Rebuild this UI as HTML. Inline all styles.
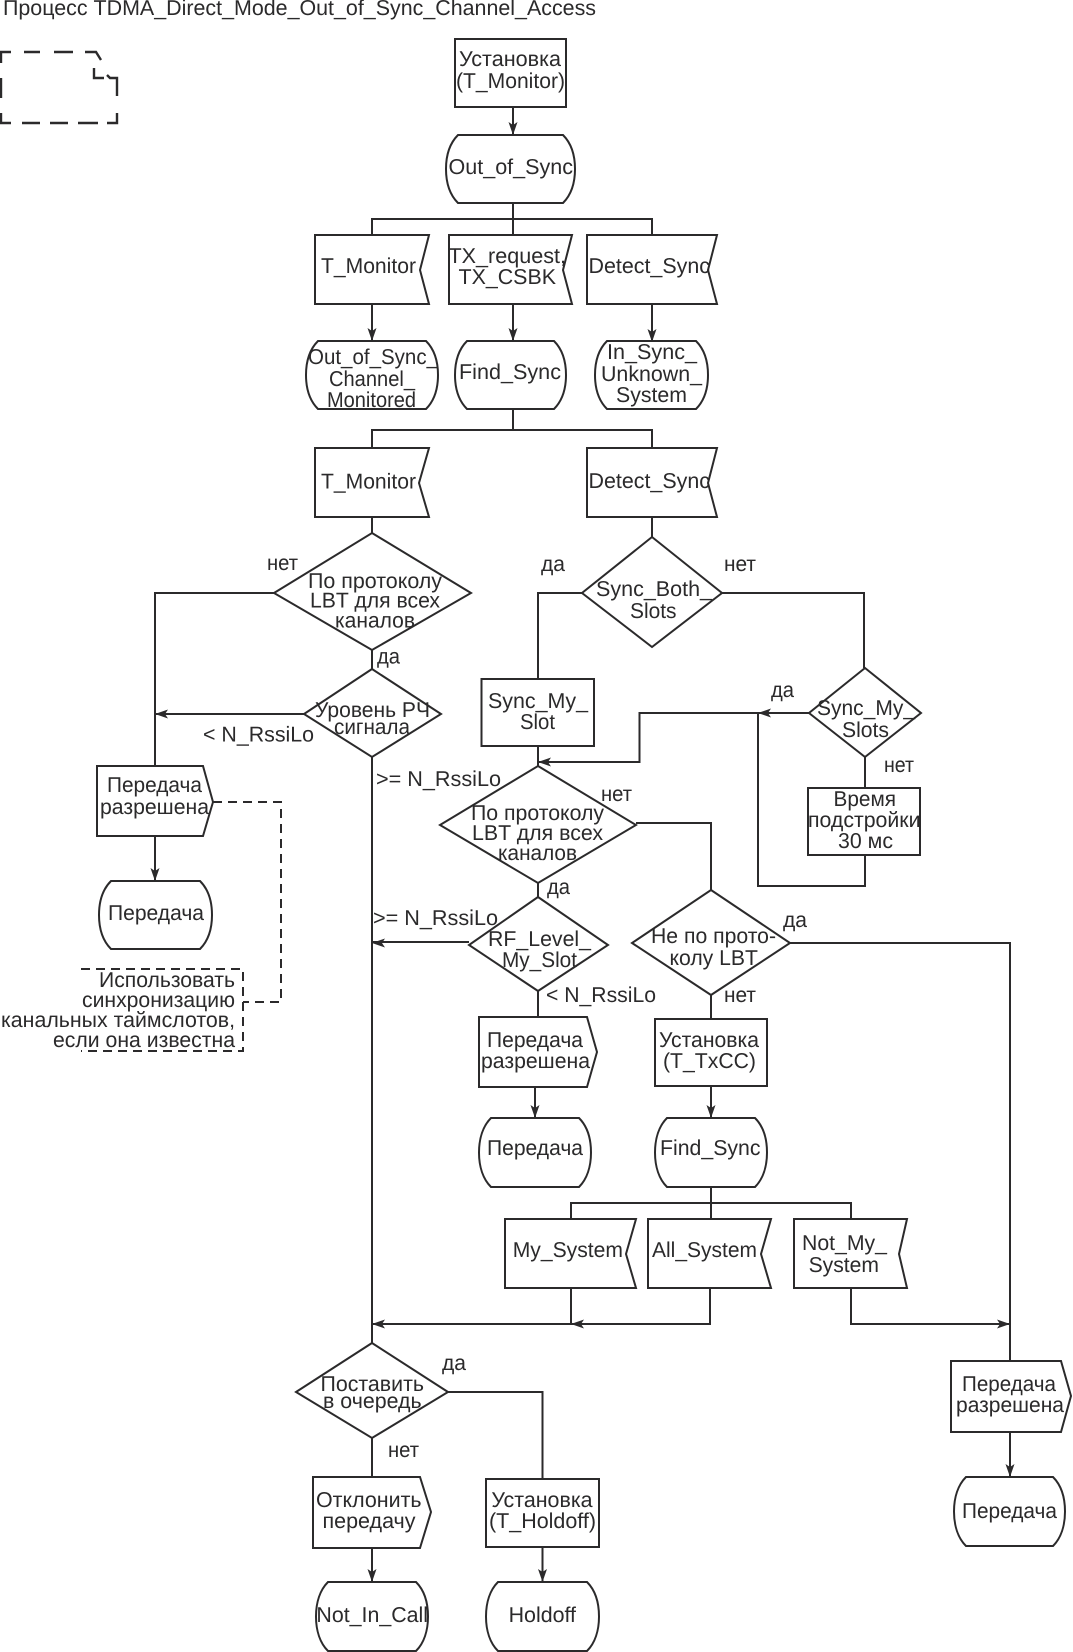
<!DOCTYPE html>
<html lang="ru">
<head>
<meta charset="utf-8">
<title>TDMA_Direct_Mode_Out_of_Sync_Channel_Access</title>
<style>
html,body{margin:0;padding:0;background:#fff}
svg{display:block}
.s{fill:none;stroke:#2b2a2b;stroke-width:2}
.d{fill:none;stroke:#2b2a2b;stroke-width:2;stroke-dasharray:9 6}
.n{fill:none;stroke:#2b2a2b;stroke-width:2.4}
.a{fill:#2b2a2b;stroke:none}
text{font-family:"Liberation Sans","Noto Sans CJK SC",sans-serif;font-size:21.5px;fill:#2b2a2b}
</style>
</head>
<body>
<svg width="1073" height="1652" viewBox="0 0 1073 1652" xmlns="http://www.w3.org/2000/svg" text-rendering="geometricPrecision">
<!-- note symbol -->
<path class="n" d="M1,63V52H11M24,52H40M54,52H73M85,52H96L101,60M1,78V98M1,113V123H11M22,123H40M50,123H68M78,123H98M107,123H117V113M117,96V78H110L107,75M94,68V78H104"/>

<!-- process boxes -->
<rect class="s" x="455" y="39" width="111" height="68"/>
<rect class="s" x="481.500" y="679" width="112.500" height="67"/>
<rect class="s" x="808" y="788" width="112" height="67"/>
<rect class="s" x="655" y="1019" width="112" height="67"/>
<rect class="s" x="486" y="1479" width="113" height="68"/>

<!-- terminals -->
<g class="s">
<path d="M458,135h105c8,8 12,20 12,34c0,14 -4,26 -12,34h-105c-8,-8 -12,-20 -12,-34c0,-14 4,-26 12,-34z"/>
<path d="M318,341h108c8,8 12,20 12,34c0,14 -4,26 -12,34h-108c-8,-8 -12,-20 -12,-34c0,-14 4,-26 12,-34z"/>
<path d="M467,341h87c8,8 12,20 12,34c0,14 -4,26 -12,34h-87c-8,-8 -12,-20 -12,-34c0,-14 4,-26 12,-34z"/>
<path d="M607,341h89c8,8 12,20 12,34c0,14 -4,26 -12,34h-89c-8,-8 -12,-20 -12,-34c0,-14 4,-26 12,-34z"/>
<path d="M111,881h89c8,8 12,20 12,34c0,14 -4,26 -12,34h-89c-8,-8 -12,-20 -12,-34c0,-14 4,-26 12,-34z"/>
<path d="M491,1118h88c8,8 12,20 12,34.500c0,14 -4,26.500 -12,34.500h-88c-8,-8 -12,-20.500 -12,-34.500c0,-14 4,-26.500 12,-34.500z"/>
<path d="M667,1118h88c8,8 12,20 12,34.500c0,14 -4,26.500 -12,34.500h-88c-8,-8 -12,-20.500 -12,-34.500c0,-14 4,-26.500 12,-34.500z"/>
<path d="M966,1477h87c8,8 12,20 12,34.500c0,14 -4,26.500 -12,34.500h-87c-8,-8 -12,-20.500 -12,-34.500c0,-14 4,-26.500 12,-34.500z"/>
<path d="M328,1582h88c8,8 12,20 12,34.500c0,14 -4,26.500 -12,34.500h-88c-8,-8 -12,-20.500 -12,-34.500c0,-14 4,-26.500 12,-34.500z"/>
<path d="M498,1582h89c8,8 12,20 12,34.500c0,14 -4,26.500 -12,34.500h-89c-8,-8 -12,-20.500 -12,-34.500c0,-14 4,-26.500 12,-34.500z"/>
</g>

<!-- input signals -->
<g class="s">
<path d="M315,235H429L420,270L429,304H315Z"/>
<path d="M449,235H572L563,270L572,304H449Z"/>
<path d="M587,235H717L708,270L717,304H587Z"/>
<path d="M315,448H429L419,483L429,517H315Z"/>
<path d="M587,448H717L708,483L717,517H587Z"/>
<path d="M505,1219H636L626,1254L636,1288H505Z"/>
<path d="M648,1219H771L761,1254L771,1288H648Z"/>
<path d="M794,1219H907L899,1254L907,1288H794Z"/>
</g>

<!-- output signals -->
<g class="s">
<path d="M97,766H203L213,802L203,836H97Z"/>
<path d="M479,1017H587L597,1052L587,1087H479Z"/>
<path d="M951,1361H1061L1071,1396L1061,1432H951Z"/>
<path d="M313,1477H420L431,1512L420,1548H313Z"/>
</g>

<!-- decisions -->
<g class="s">
<path d="M372,533L471,593L372,650L274,593Z"/>
<path d="M372,669L441,714L372,757L304,714Z"/>
<path d="M652,537L722,593L652,647L582,593Z"/>
<path d="M865,668L921,713L865,757L809,713Z"/>
<path d="M538,766L636,825L538,883L440,825Z"/>
<path d="M538,897L608,945L538,991L469,945Z"/>
<path d="M711,890L790,943L711,995L632,943Z"/>
<path d="M372,1343L448,1392L372,1438L296,1392Z"/>
</g>

<!-- connectors -->
<g class="s">
<path d="M513,107V135"/>
<path d="M513,203V235M372,235V219H652V235"/>
<path d="M372,304V341M513,304V341M652,304V342"/>
<path d="M513,409V430M372,448V430H652V448"/>
<path d="M372,517V533M372,650V669M652,517V537"/>
<path d="M274,593H155V766M304,714H155"/>
<path d="M155,836V881"/>
<path d="M372,757V1343"/>
<path d="M582,593H538V679M722,593H864V668"/>
<path d="M538,746V766"/>
<path d="M809,713H639.500V762H538"/>
<path d="M865,757V788M865,855V886H758V713"/>
<path d="M636,823H711V890"/>
<path d="M538,883V897M469,942H372"/>
<path d="M538,991V1017M535,1087V1118"/>
<path d="M711,995V1019M711,1086V1118"/>
<path d="M790,943H1010V1361"/>
<path d="M711,1187V1219M571,1219V1203H851V1219"/>
<path d="M571,1288V1324M710,1288V1324H372"/>
<path d="M851,1288V1324H1010"/>
<path d="M1010,1432V1477"/>
<path d="M448,1392H542.500V1479"/>
<path d="M372,1438V1477M372,1548V1582M542.500,1547V1582"/>
</g>

<!-- dashed comment -->
<path class="d" d="M213,802H281V1002H243"/>
<path class="d" d="M81,969H243V1051H81"/>

<!-- arrowheads -->
<g class="a">
<polygon points="513,135 508.500,122 513,125 517.500,122"/>
<polygon points="372,341 367.500,328 372,331 376.500,328"/>
<polygon points="513,341 508.500,328 513,331 517.500,328"/>
<polygon points="652,342 647.500,329 652,332 656.500,329"/>
<polygon points="155,714 168,709.500 165,714 168,718.500"/>
<polygon points="155,881 150.500,868 155,871 159.500,868"/>
<polygon points="372,943 385,938.500 382,943 385,947.500"/>
<polygon points="538,762 551,757.500 548,762 551,766.500"/>
<polygon points="758,713 771,708.500 768,713 771,717.500"/>
<polygon points="535,1118 530.500,1105 535,1108 539.500,1105"/>
<polygon points="711,1118 706.500,1105 711,1108 715.500,1105"/>
<polygon points="372,1324 385,1319.500 382,1324 385,1328.500"/>
<polygon points="571,1324 584,1319.500 581,1324 584,1328.500"/>
<polygon points="1010,1324 997,1319.500 1000,1324 997,1328.500"/>
<polygon points="1010,1477 1005.500,1464 1010,1467 1014.500,1464"/>
<polygon points="372,1582 367.500,1569 372,1572 376.500,1569"/>
<polygon points="542.500,1582 538,1569 542.500,1572 547,1569"/>
</g>

<!-- labels -->
<g>
<text x="3" y="15" textLength="593" lengthAdjust="spacingAndGlyphs">Процесс TDMA_Direct_Mode_Out_of_Sync_Channel_Access</text>
<text x="459" y="66" textLength="102" lengthAdjust="spacingAndGlyphs">Установка</text>
<text x="456" y="88" textLength="109" lengthAdjust="spacingAndGlyphs">(T_Monitor)</text>
<text x="448.500" y="174" textLength="124.500" lengthAdjust="spacingAndGlyphs">Out_of_Sync</text>
<text x="321" y="273" textLength="95" lengthAdjust="spacingAndGlyphs">T_Monitor</text>
<text x="448.500" y="263" textLength="117.500" lengthAdjust="spacingAndGlyphs">TX_request,</text>
<text x="458.500" y="284" textLength="97.500" lengthAdjust="spacingAndGlyphs">TX_CSBK</text>
<text x="588.500" y="273" textLength="121.500" lengthAdjust="spacingAndGlyphs">Detect_Sync</text>
<text x="308" y="364" textLength="130" lengthAdjust="spacingAndGlyphs">Out_of_Sync_</text>
<text x="329" y="386" textLength="86" lengthAdjust="spacingAndGlyphs">Channel_</text>
<text x="327" y="407" textLength="89" lengthAdjust="spacingAndGlyphs">Monitored</text>
<text x="459" y="379" textLength="102" lengthAdjust="spacingAndGlyphs">Find_Sync</text>
<text x="607" y="359" textLength="90" lengthAdjust="spacingAndGlyphs">In_Sync_</text>
<text x="601" y="381" textLength="101" lengthAdjust="spacingAndGlyphs">Unknown_</text>
<text x="616" y="402" textLength="71" lengthAdjust="spacingAndGlyphs">System</text>
<text x="321" y="488.500" textLength="95" lengthAdjust="spacingAndGlyphs">T_Monitor</text>
<text x="588.500" y="488" textLength="121.500" lengthAdjust="spacingAndGlyphs">Detect_Sync</text>
<text x="541" y="571" textLength="24" lengthAdjust="spacingAndGlyphs">да</text>
<text x="724" y="571" textLength="32" lengthAdjust="spacingAndGlyphs">нет</text>
<text x="596" y="596" textLength="116" lengthAdjust="spacingAndGlyphs">Sync_Both_</text>
<text x="630" y="618" textLength="46.500" lengthAdjust="spacingAndGlyphs">Slots</text>
<text x="267" y="570" textLength="31" lengthAdjust="spacingAndGlyphs">нет</text>
<text x="308" y="588" textLength="134" lengthAdjust="spacingAndGlyphs">По протоколу</text>
<text x="310" y="607.500" textLength="130" lengthAdjust="spacingAndGlyphs">LBT для всех</text>
<text x="335" y="627.500" textLength="80" lengthAdjust="spacingAndGlyphs">каналов</text>
<text x="377" y="663.500" textLength="23" lengthAdjust="spacingAndGlyphs">да</text>
<text x="315" y="717" textLength="115" lengthAdjust="spacingAndGlyphs">Уровень РЧ</text>
<text x="334" y="734" textLength="76" lengthAdjust="spacingAndGlyphs">сигнала</text>
<text x="203" y="741.500" textLength="111" lengthAdjust="spacingAndGlyphs">&lt; N_RssiLo</text>
<text x="376" y="786" textLength="125" lengthAdjust="spacingAndGlyphs">&gt;= N_RssiLo</text>
<text x="107" y="792" textLength="95" lengthAdjust="spacingAndGlyphs">Передача</text>
<text x="100" y="814" textLength="109" lengthAdjust="spacingAndGlyphs">разрешена</text>
<text x="108" y="920" textLength="96" lengthAdjust="spacingAndGlyphs">Передача</text>
<text x="373" y="925" textLength="125" lengthAdjust="spacingAndGlyphs">&gt;= N_RssiLo</text>
<text x="99" y="987" textLength="136" lengthAdjust="spacingAndGlyphs">Использовать</text>
<text x="82" y="1007" textLength="153" lengthAdjust="spacingAndGlyphs">синхронизацию</text>
<text x="1" y="1027" textLength="234" lengthAdjust="spacingAndGlyphs">канальных таймслотов,</text>
<text x="53" y="1047" textLength="182" lengthAdjust="spacingAndGlyphs">если она известна</text>
<text x="488" y="708" textLength="100" lengthAdjust="spacingAndGlyphs">Sync_My_</text>
<text x="520" y="729" textLength="35" lengthAdjust="spacingAndGlyphs">Slot</text>
<text x="771" y="697" textLength="23" lengthAdjust="spacingAndGlyphs">да</text>
<text x="817" y="715" textLength="98" lengthAdjust="spacingAndGlyphs">Sync_My_</text>
<text x="842" y="737" textLength="47" lengthAdjust="spacingAndGlyphs">Slots</text>
<text x="884" y="772" textLength="30" lengthAdjust="spacingAndGlyphs">нет</text>
<text x="833.500" y="806" textLength="62.500" lengthAdjust="spacingAndGlyphs">Время</text>
<text x="808" y="827" textLength="112.500" lengthAdjust="spacingAndGlyphs">подстройки</text>
<text x="838" y="848" textLength="55" lengthAdjust="spacingAndGlyphs">30 мс</text>
<text x="601" y="801" textLength="31" lengthAdjust="spacingAndGlyphs">нет</text>
<text x="471" y="820" textLength="133" lengthAdjust="spacingAndGlyphs">По протоколу</text>
<text x="472" y="840" textLength="131" lengthAdjust="spacingAndGlyphs">LBT для всех</text>
<text x="498" y="860" textLength="79" lengthAdjust="spacingAndGlyphs">каналов</text>
<text x="547" y="894" textLength="23" lengthAdjust="spacingAndGlyphs">да</text>
<text x="488" y="946" textLength="103" lengthAdjust="spacingAndGlyphs">RF_Level_</text>
<text x="502" y="967" textLength="75" lengthAdjust="spacingAndGlyphs">My_Slot</text>
<text x="651" y="943" textLength="125" lengthAdjust="spacingAndGlyphs">Не по прото-</text>
<text x="669.500" y="965" textLength="88.500" lengthAdjust="spacingAndGlyphs">колу LBT</text>
<text x="783" y="927" textLength="24" lengthAdjust="spacingAndGlyphs">да</text>
<text x="546" y="1002" textLength="110" lengthAdjust="spacingAndGlyphs">&lt; N_RssiLo</text>
<text x="724" y="1002" textLength="32" lengthAdjust="spacingAndGlyphs">нет</text>
<text x="487" y="1047" textLength="96" lengthAdjust="spacingAndGlyphs">Передача</text>
<text x="481" y="1068" textLength="109" lengthAdjust="spacingAndGlyphs">разрешена</text>
<text x="659" y="1047" textLength="100" lengthAdjust="spacingAndGlyphs">Установка</text>
<text x="663" y="1068" textLength="93" lengthAdjust="spacingAndGlyphs">(T_TxCC)</text>
<text x="487" y="1155" textLength="96" lengthAdjust="spacingAndGlyphs">Передача</text>
<text x="660" y="1155" textLength="100.500" lengthAdjust="spacingAndGlyphs">Find_Sync</text>
<text x="512.700" y="1257" textLength="110.300" lengthAdjust="spacingAndGlyphs">My_System</text>
<text x="652" y="1257" textLength="105" lengthAdjust="spacingAndGlyphs">All_System</text>
<text x="802" y="1250" textLength="85" lengthAdjust="spacingAndGlyphs">Not_My_</text>
<text x="808.600" y="1272" textLength="70.400" lengthAdjust="spacingAndGlyphs">System</text>
<text x="442" y="1370" textLength="24" lengthAdjust="spacingAndGlyphs">да</text>
<text x="320.500" y="1391" textLength="103.500" lengthAdjust="spacingAndGlyphs">Поставить</text>
<text x="323" y="1408" textLength="98.600" lengthAdjust="spacingAndGlyphs">в очередь</text>
<text x="388" y="1457" textLength="31" lengthAdjust="spacingAndGlyphs">нет</text>
<text x="962" y="1391" textLength="94" lengthAdjust="spacingAndGlyphs">Передача</text>
<text x="956" y="1412" textLength="108" lengthAdjust="spacingAndGlyphs">разрешена</text>
<text x="316" y="1507" textLength="105.600" lengthAdjust="spacingAndGlyphs">Отклонить</text>
<text x="322.500" y="1528" textLength="93" lengthAdjust="spacingAndGlyphs">передачу</text>
<text x="491.400" y="1507" textLength="101.200" lengthAdjust="spacingAndGlyphs">Установка</text>
<text x="489" y="1528" textLength="107" lengthAdjust="spacingAndGlyphs">(T_Holdoff)</text>
<text x="962" y="1518" textLength="95" lengthAdjust="spacingAndGlyphs">Передача</text>
<text x="316.400" y="1622" textLength="111.600" lengthAdjust="spacingAndGlyphs">Not_In_Call</text>
<text x="508.600" y="1622" textLength="67.400" lengthAdjust="spacingAndGlyphs">Holdoff</text>
</g>
</svg>
</body>
</html>
